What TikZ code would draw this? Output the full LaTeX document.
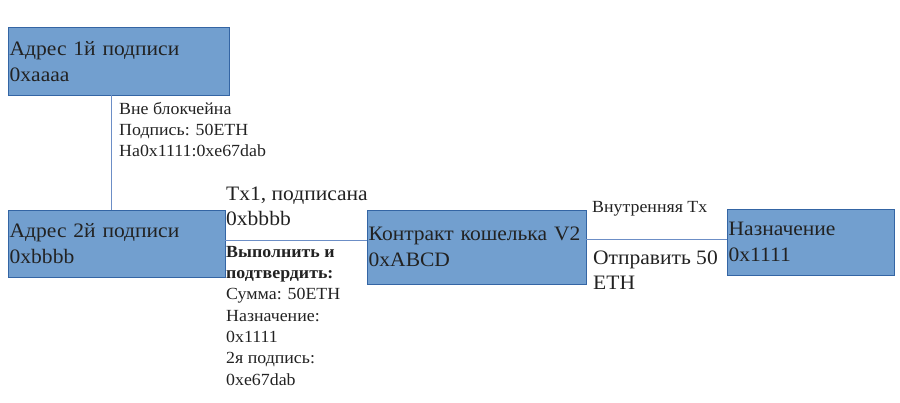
\documentclass[tikz,border=0pt]{standalone}
\usepackage{fontspec}
\setmainfont{Liberation Serif}[FakeStretch=1.05]
\usetikzlibrary{positioning}
\definecolor{boxfill}{HTML}{729FCF}
\definecolor{boxline}{HTML}{3465A4}
\definecolor{wire}{HTML}{6C8EC6}
\definecolor{ink}{HTML}{222222}

\begin{document}
\begin{tikzpicture}[x=1pt,y=-1pt,
                    main node/.style={rectangle,draw=boxline,fill=boxfill,anchor=north west,
                      inner xsep=1.5pt,inner ysep=0pt,align=left,text=ink,
                      font=\fontsize{20.5}{26}\selectfont},
                    note/.style={anchor=base west,inner sep=0pt,align=left,text=ink,
                      font=\fontsize{17}{21.3}\selectfont},
                    big note/.style={note,font=\fontsize{20.5}{25}\selectfont},
                    wire/.style={draw=wire,line width=0.8pt}]
  \useasboundingbox (0,0) rectangle (900,402);

  \node[main node,text width=218pt,minimum height=68pt] (1) at (8,27) {Адрес 1й подписи\\0xaaaa};
  \node[main node,text width=214pt,minimum height=67pt] (2) at (8,210) {Адрес 2й подписи\\0xbbbb};
  \node[main node,text width=216pt,minimum height=74pt] (3) at (367,210) {Контракт кошелька V2\\0xABCD};
  \node[main node,text width=164pt,minimum height=66pt] (4) at (727,209) {Назначение\\0x1111};

  % base west = baseline of the last line
  \node[note] (5) at (119,156.8) {Вне блокчейна\\Подпись: 50ETH\\На0x1111:0xe67dab};
  \node[big note] (6) at (226,225) {Tx1, подписана\\0xbbbb};
  \node[note] (7) at (226,385) {\textbf{Выполнить и}\\\textbf{подтвердить:}\\Сумма: 50ETH\\Назначение:\\0x1111\\2я подпись:\\0xe67dab};
  \node[note] (8) at (592,212) {Внутренняя Tx};
  \node[big note] (9) at (593,289) {Отправить 50\\ETH};

  \path (1.south west) -- (1.south east) coordinate[pos=0.466] (a);
  \draw[wire] (a) -- (a |- 2.north);
  \draw[wire] ([yshift=-30pt]2.north east) -- ([yshift=-30pt]2.north east -| 3.west);
  \draw[wire] ([yshift=-29pt]3.north east) -- ([yshift=-29pt]3.north east -| 4.west);
\end{tikzpicture}
\end{document}
